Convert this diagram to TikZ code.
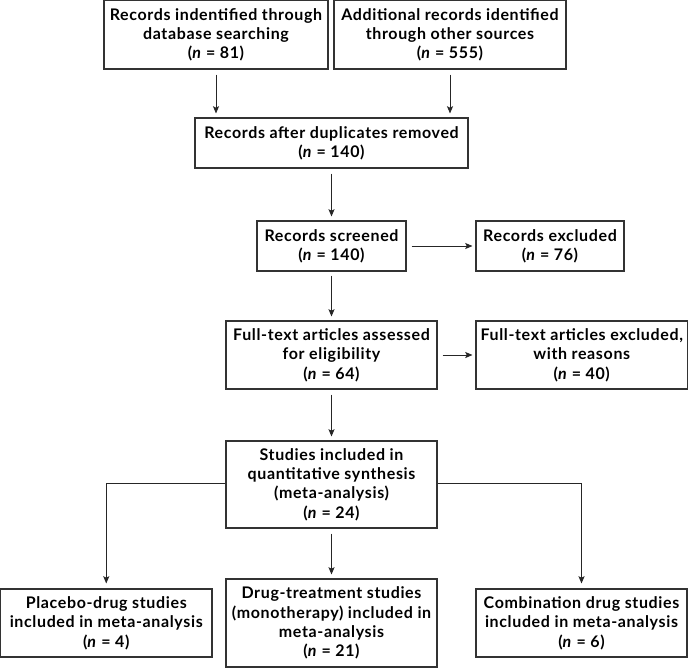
\documentclass[tikz,border=0pt]{standalone}
\usepackage{fontspec}
\setmainfont{Lato}[BoldFont={* Bold},BoldItalicFont={* Bold Italic},LetterSpace=4]
\usetikzlibrary{arrows.meta}
\begin{document}
\begin{tikzpicture}[x=0.75pt,y=-0.75pt,
  box/.style={draw=black!80,line width=0.8pt,inner sep=0pt,align=center,
    font=\fontsize{12}{14.5}\selectfont\bfseries},
  conn/.style={draw=black!85,line width=0.75pt,-{Stealth[length=5.5pt,width=4.6pt,inset=1.2pt]}}]
\useasboundingbox (0,0) rectangle (688,668);
\node[box,minimum width=168pt,minimum height=51.4pt] (b1) at (216,34.75)
  {Records indentified through\\database searching\\(\textit{n} = 81)};
\node[box,minimum width=174pt,minimum height=51.4pt] (b2) at (450,34.75)
  {Additional records identified\\through other sources\\(\textit{n} = 555)};
\node[box,minimum width=204.75pt,minimum height=37.5pt] (b3) at (331.5,143)
  {Records after duplicates removed\\(\textit{n} = 140)};
\node[box,minimum width=111.75pt,minimum height=37.5pt] (b4) at (331.5,246)
  {Records screened\\(\textit{n} = 140)};
\node[box,minimum width=111pt,minimum height=37.5pt] (b5) at (550,246)
  {Records excluded\\(\textit{n} = 76)};
\node[box,minimum width=158.25pt,minimum height=51pt] (b6) at (331.5,355)
  {Full-text articles assessed\\for eligibility\\(\textit{n} = 64)};
\node[box,minimum width=158.6pt,minimum height=51pt] (b7) at (581.75,355)
  {Full-text articles excluded,\\with reasons\\(\textit{n} = 40)};
\node[box,minimum width=158.25pt,minimum height=65.25pt] (b8) at (331.5,484.5)
  {Studies included in\\quantitative synthesis\\(meta-analysis)\\(\textit{n} = 24)};
\node[box,minimum width=158.6pt,minimum height=51pt] (b9) at (106.25,623)
  {Placebo-drug studies\\included in meta-analysis\\(\textit{n} = 4)};
\node[box,minimum width=158.25pt,minimum height=66pt] (b10) at (331.5,623)
  {Drug-treatment studies\\(monotherapy) included in\\meta-analysis\\(\textit{n} = 21)};
\node[box,minimum width=158.25pt,minimum height=51pt] (b11) at (581.5,623)
  {Combination drug studies\\included in meta-analysis\\(\textit{n} = 6)};
\draw[conn,shorten <=3.75pt,shorten >=3pt] (b1.south) -- (b1.south |- b3.north);
\draw[conn,shorten <=3.75pt,shorten >=3pt] (b2.south) -- (b2.south |- b3.north);
\draw[conn,shorten <=3.75pt,shorten >=3pt] (b3.south) -- (b4.north);
\draw[conn,shorten <=3pt,shorten >=3pt] (b4.south) -- (b6.north);
\draw[conn,shorten <=3.75pt,shorten >=3pt] (b6.south) -- (b8.north);
\draw[conn,shorten <=3.75pt,shorten >=3pt] (b8.south) -- (b10.north);
\draw[conn,shorten <=3.75pt,shorten >=2.25pt] (b4.east) -- (b5.west);
\draw[conn,shorten <=3.75pt,shorten >=2.25pt] (b6.east) -- (b7.west);
\draw[conn,shorten >=3.75pt] ([yshift=1.1pt]b8.west) -| (b9.north);
\draw[conn,shorten >=3.75pt] ([yshift=1.1pt]b8.east) -| (b11.north);
\end{tikzpicture}
\end{document}
